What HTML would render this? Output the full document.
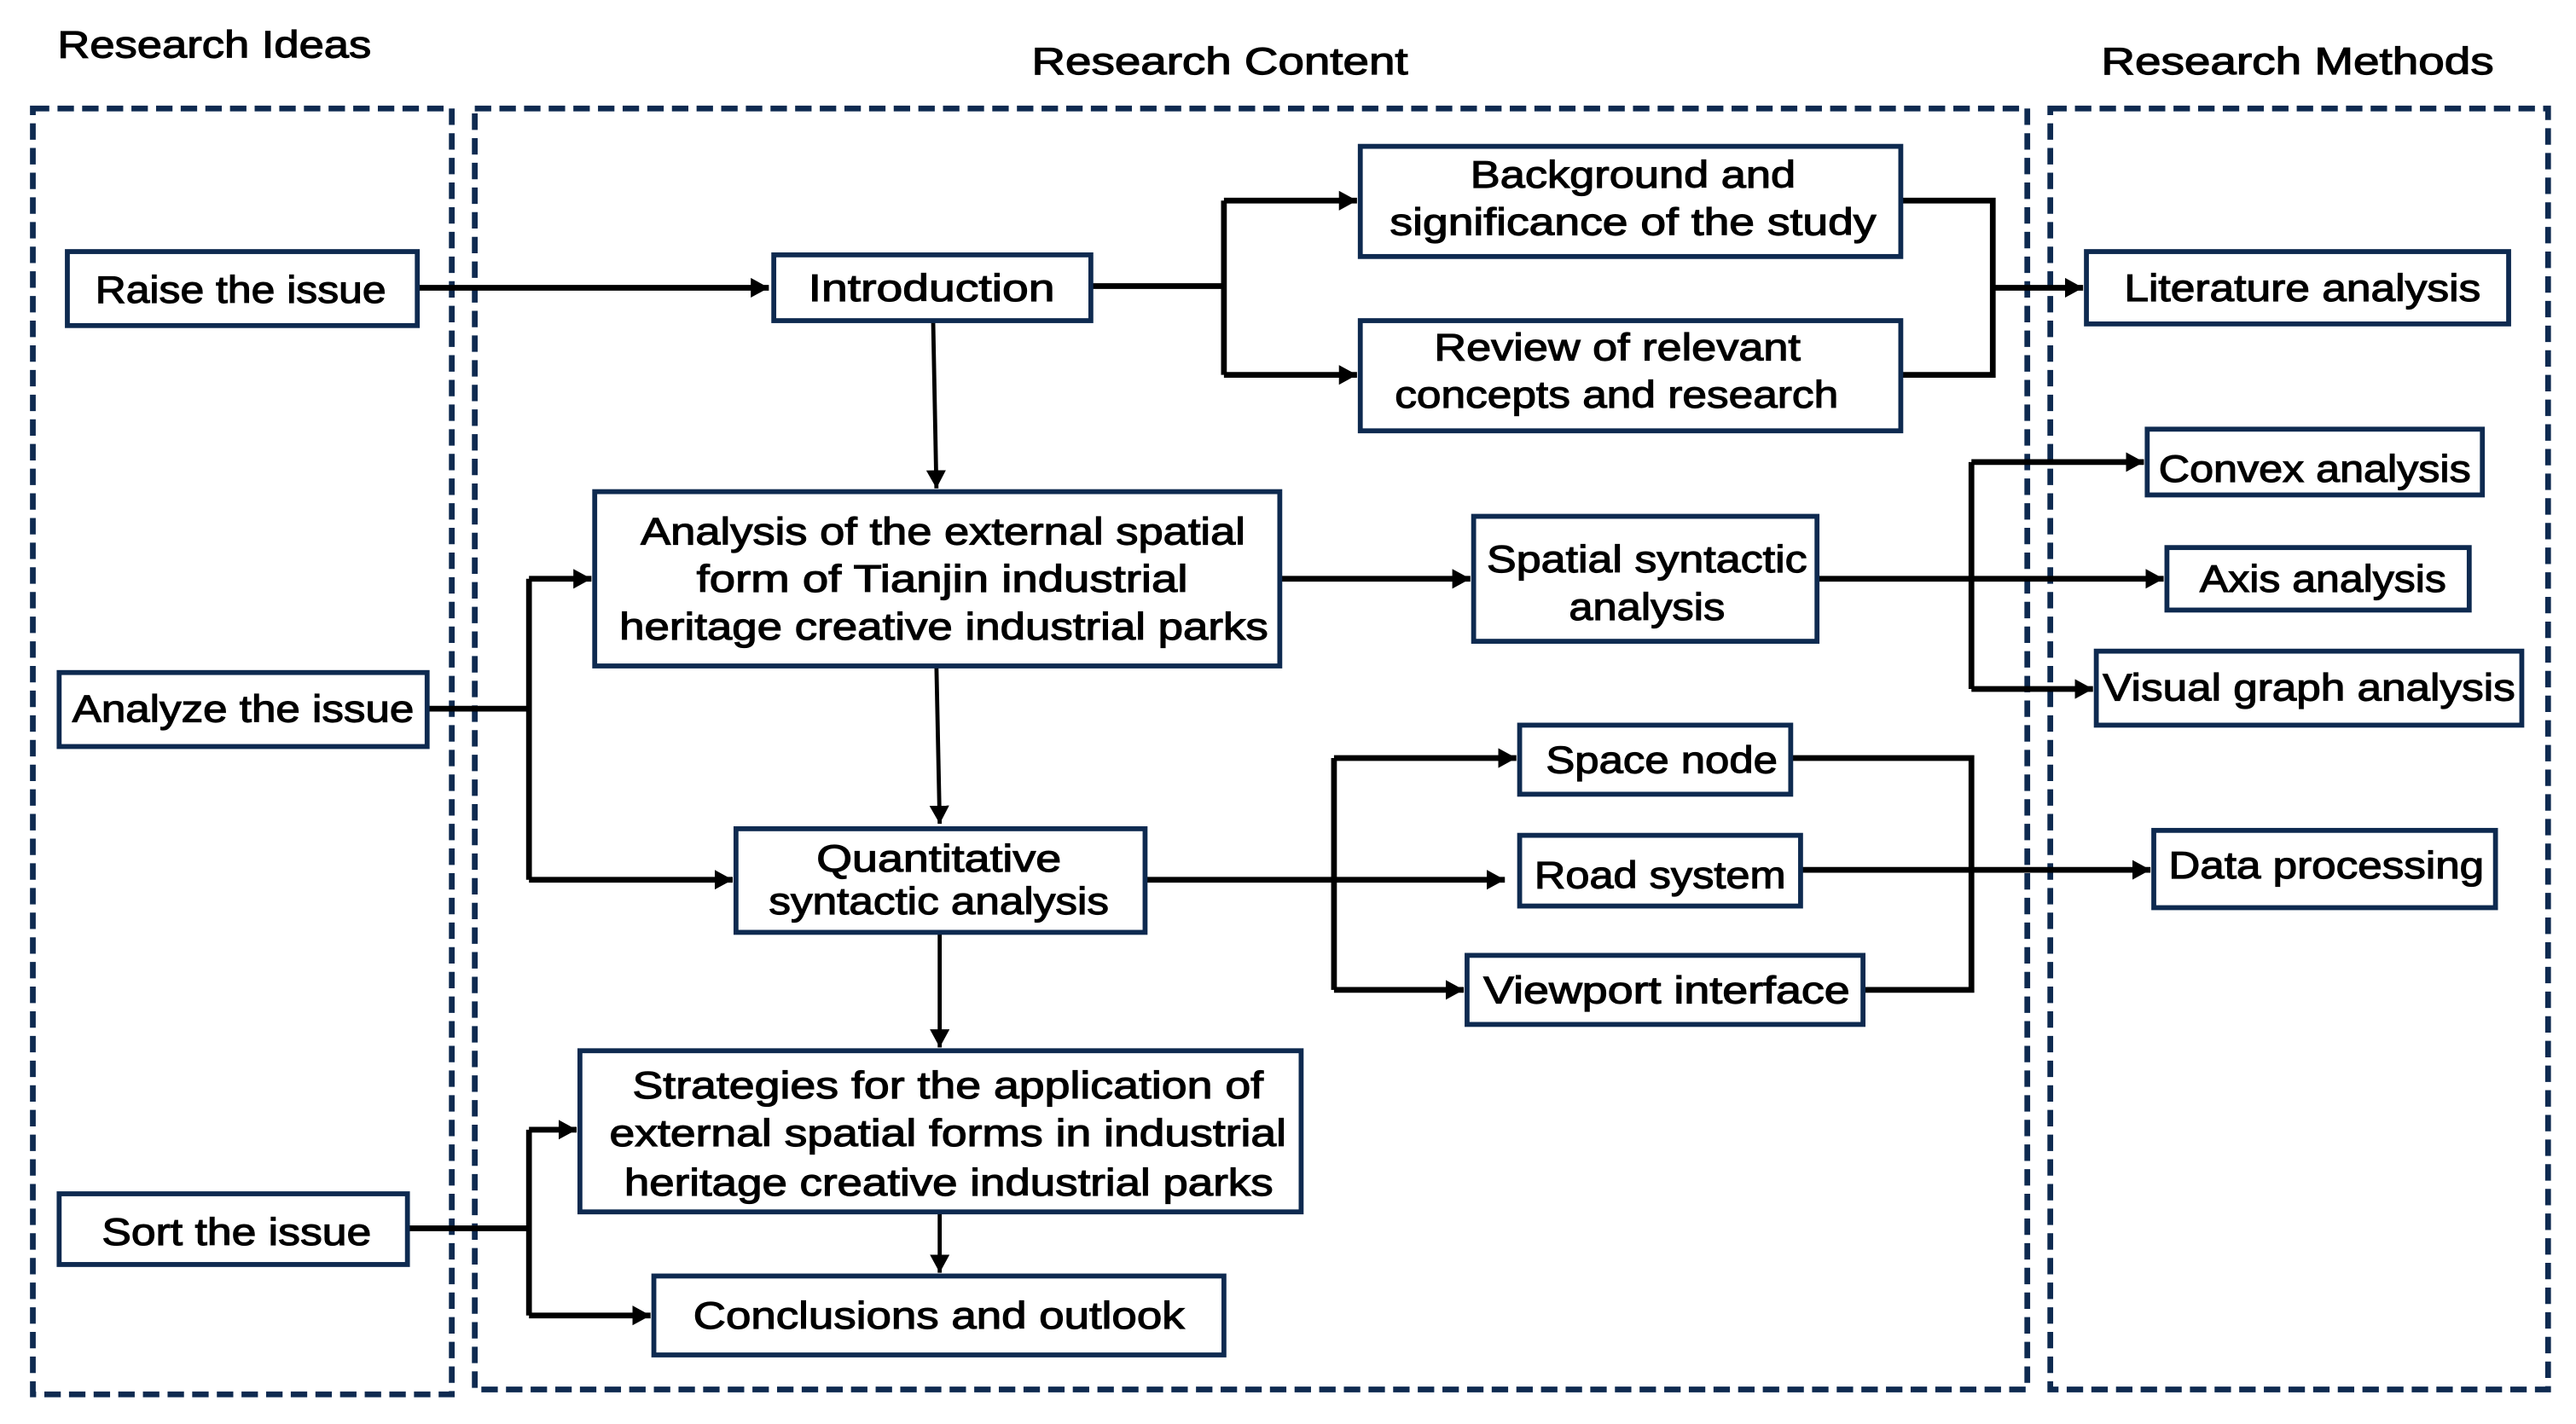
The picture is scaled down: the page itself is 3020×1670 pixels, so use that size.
<!DOCTYPE html>
<html><head><meta charset="utf-8"><style>
html,body{margin:0;padding:0;background:#fff;}
svg{display:block;}
text{font-family:"Liberation Sans",sans-serif;font-size:23px;fill:#000;stroke:#000;stroke-width:0.6;}
</style></head><body>
<svg width="3020" height="1670" viewBox="0 0 1568 866" preserveAspectRatio="none" xmlns="http://www.w3.org/2000/svg">
<defs>
<marker id="a" markerUnits="userSpaceOnUse" markerWidth="14" markerHeight="14" refX="11" refY="6" orient="auto">
<path d="M0,0 L11,6 L0,12 Z" fill="#000"/>
</marker>
</defs>
<g fill="none" stroke="#0e2a50" stroke-width="3.5" stroke-dasharray="10,5">
<rect x="20" y="66" width="255" height="782"/>
<rect x="289" y="66" width="945" height="779"/>
<rect x="1248" y="66" width="303" height="779"/>
</g>
<text x="35" y="35" textLength="191" lengthAdjust="spacingAndGlyphs">Research Ideas</text>
<text x="628" y="45" textLength="229" lengthAdjust="spacingAndGlyphs">Research Content</text>
<text x="1279" y="45" textLength="239" lengthAdjust="spacingAndGlyphs">Research Methods</text>
<g fill="none" stroke="#000" stroke-width="3.5">
<path d="M254,175 H468" marker-end="url(#a)"/>
<path d="M664,174 H745 M745,122 V228"/>
<path d="M745,122 H826" marker-end="url(#a)"/>
<path d="M745,228 H826" marker-end="url(#a)"/>
<path d="M1157,122 H1213 V228 H1157"/>
<path d="M1213,175 H1268" marker-end="url(#a)"/>
<path d="M779,352 H895" marker-end="url(#a)"/>
<path d="M1106,352 H1317" marker-end="url(#a)"/>
<path d="M1200,281 V419"/>
<path d="M1200,281 H1305" marker-end="url(#a)"/>
<path d="M1200,419 H1274" marker-end="url(#a)"/>
<path d="M260,431 H322 M322,352 V535"/>
<path d="M322,352 H360" marker-end="url(#a)"/>
<path d="M322,535 H446" marker-end="url(#a)"/>
<path d="M697,535 H916" marker-end="url(#a)"/>
<path d="M812,461 V602"/>
<path d="M812,461 H923" marker-end="url(#a)"/>
<path d="M812,602 H891" marker-end="url(#a)"/>
<path d="M1090,461 H1200 V602 H1134"/>
<path d="M1096,529 H1309" marker-end="url(#a)"/>
<path d="M248,747 H322 M322,687 V800"/>
<path d="M322,687 H351" marker-end="url(#a)"/>
<path d="M322,800 H396" marker-end="url(#a)"/>
</g>
<g fill="none" stroke="#000" stroke-width="2.5">
<path d="M568,195 L570,297" marker-end="url(#a)"/>
<path d="M570,405 L572,501" marker-end="url(#a)"/>
<path d="M572,567 V637" marker-end="url(#a)"/>
<path d="M572,737 V774" marker-end="url(#a)"/>
</g>
<g fill="#fff" stroke="#0e2a50" stroke-width="3">
<rect x="41" y="153" width="213" height="45"/>
<rect x="36" y="409" width="224" height="45"/>
<rect x="36" y="726" width="212" height="43"/>
<rect x="471" y="155" width="193" height="40"/>
<rect x="828" y="89" width="329" height="67"/>
<rect x="828" y="195" width="329" height="67"/>
<rect x="362" y="299" width="417" height="106"/>
<rect x="897" y="314" width="209" height="76"/>
<rect x="448" y="504" width="249" height="63"/>
<rect x="353" y="639" width="439" height="98"/>
<rect x="398" y="776" width="347" height="48"/>
<rect x="925" y="441" width="165" height="42"/>
<rect x="925" y="508" width="171" height="43"/>
<rect x="893" y="581" width="241" height="42"/>
<rect x="1270" y="153" width="257" height="44"/>
<rect x="1307" y="261" width="204" height="40"/>
<rect x="1319" y="333" width="184" height="38"/>
<rect x="1276" y="396" width="259" height="45"/>
<rect x="1311" y="505" width="208" height="47"/>
</g>
<g>
<text x="58" y="184" textLength="177" lengthAdjust="spacingAndGlyphs">Raise the issue</text>
<text x="44" y="439" textLength="208" lengthAdjust="spacingAndGlyphs">Analyze the issue</text>
<text x="62" y="757" textLength="164" lengthAdjust="spacingAndGlyphs">Sort the issue</text>
<text x="492" y="183" textLength="150" lengthAdjust="spacingAndGlyphs">Introduction</text>
<text x="895" y="114" textLength="198" lengthAdjust="spacingAndGlyphs">Background and</text>
<text x="846" y="143" textLength="296" lengthAdjust="spacingAndGlyphs">significance of the study</text>
<text x="873" y="219" textLength="223" lengthAdjust="spacingAndGlyphs">Review of relevant</text>
<text x="849" y="248" textLength="270" lengthAdjust="spacingAndGlyphs">concepts and research</text>
<text x="390" y="331" textLength="368" lengthAdjust="spacingAndGlyphs">Analysis of the external spatial</text>
<text x="424" y="360" textLength="299" lengthAdjust="spacingAndGlyphs">form of Tianjin industrial</text>
<text x="377" y="389" textLength="395" lengthAdjust="spacingAndGlyphs">heritage creative industrial parks</text>
<text x="905" y="348" textLength="195" lengthAdjust="spacingAndGlyphs">Spatial syntactic</text>
<text x="955" y="377" textLength="95" lengthAdjust="spacingAndGlyphs">analysis</text>
<text x="497" y="530" textLength="149" lengthAdjust="spacingAndGlyphs">Quantitative</text>
<text x="468" y="556" textLength="207" lengthAdjust="spacingAndGlyphs">syntactic analysis</text>
<text x="385" y="668" textLength="384" lengthAdjust="spacingAndGlyphs">Strategies for the application of</text>
<text x="371" y="697" textLength="412" lengthAdjust="spacingAndGlyphs">external spatial forms in industrial</text>
<text x="380" y="727" textLength="395" lengthAdjust="spacingAndGlyphs">heritage creative industrial parks</text>
<text x="422" y="808" textLength="299" lengthAdjust="spacingAndGlyphs">Conclusions and outlook</text>
<text x="941" y="470" textLength="141" lengthAdjust="spacingAndGlyphs">Space node</text>
<text x="934" y="540" textLength="153" lengthAdjust="spacingAndGlyphs">Road system</text>
<text x="903" y="610" textLength="223" lengthAdjust="spacingAndGlyphs">Viewport interface</text>
<text x="1293" y="183" textLength="217" lengthAdjust="spacingAndGlyphs">Literature analysis</text>
<text x="1314" y="293" textLength="190" lengthAdjust="spacingAndGlyphs">Convex analysis</text>
<text x="1339" y="360" textLength="150" lengthAdjust="spacingAndGlyphs">Axis analysis</text>
<text x="1280" y="426" textLength="251" lengthAdjust="spacingAndGlyphs">Visual graph analysis</text>
<text x="1320" y="534" textLength="192" lengthAdjust="spacingAndGlyphs">Data processing</text>
</g>
</svg>
</body></html>
